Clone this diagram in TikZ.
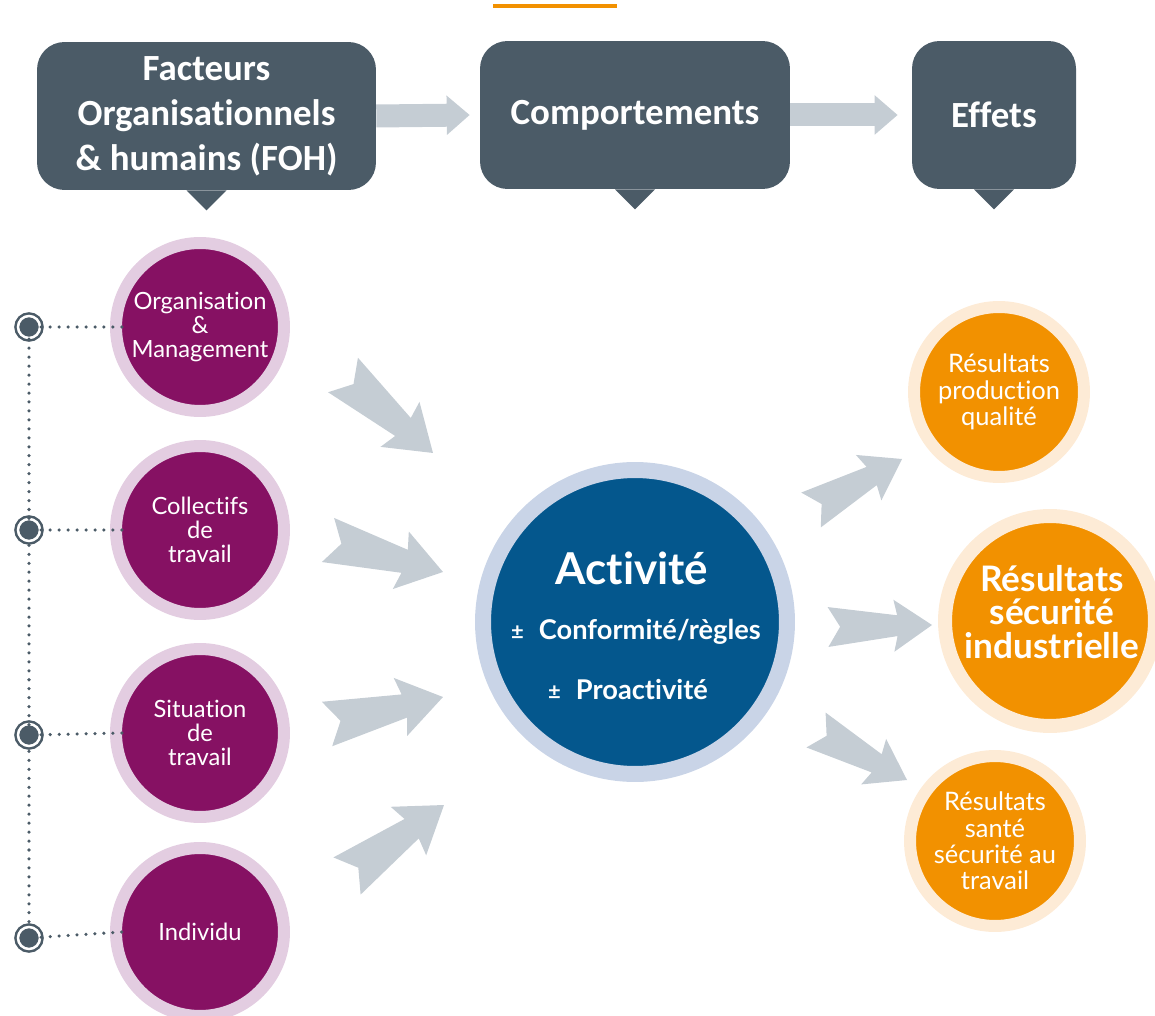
\documentclass[tikz,border=0pt]{standalone}
\usepackage{fontspec}
\setmainfont{Lato}[Ligatures=NoCommon]
\newfontfamily\boxfont{Carlito}[Ligatures=NoCommon]
\usetikzlibrary{arrows.meta,calc}

\definecolor{slate}{HTML}{4B5B67}
\definecolor{arrowgray}{HTML}{C5CDD4}
\definecolor{plum}{HTML}{861163}
\definecolor{plumring}{HTML}{E3CDE1}
\definecolor{navy}{HTML}{04578D}
\definecolor{navyring}{HTML}{C9D4E7}
\definecolor{amber}{HTML}{F29100}
\definecolor{amberring}{HTML}{FDEBD6}

\tikzset{
  chev/.pic={\fill[arrowgray] (0,23) -- (14,0) -- (0,-23) -- (80,-12) -- (76,-30)
    -- (120,0) -- (76,30) -- (80,12) -- cycle;},
  headbox/.style={rectangle, rounded corners=0.55cm, fill=slate, text=white,
    font=\boxfont\bfseries\fontsize{21}{25.6}\selectfont, align=center,
    minimum height=2.96cm, inner sep=0},
  headarrow/.style={draw=arrowgray, line width=0.46cm,
    -{Triangle[length=0.46cm, width=0.76cm]}},
  factor/.style={circle, fill=plum, draw=plumring, line width=0.24cm,
    minimum size=3.36cm, inner sep=0, text=white, align=center,
    font=\fontsize{13.5}{13.8}\selectfont},
  result/.style={circle, fill=amber, draw=amberring, line width=0.24cm,
    minimum size=3.4cm, inner sep=0, text=white, align=center,
    font=\fontsize{14.5}{15}\selectfont},
  dotline/.style={draw=slate, line width=2pt, line cap=round,
    dash pattern=on 0pt off 5.1pt},
  knob/.style={circle, fill=slate, draw=slate, double=white,
    double distance=0.05cm, line width=0.05cm, minimum size=0.44cm, inner sep=0}
}

% gray chevron between two named points
\newcommand\bigchev[2]{%
  \path let \p1=(#1), \p2=(#2), \n1={atan2(\y2-\y1,\x2-\x1)},
    \n2={veclen(\x2-\x1,\y2-\y1)/68.29} in (\p1) pic[rotate=\n1, scale=\n2] {chev};}

\begin{document}
\begin{tikzpicture}[x=0.02cm, y=-0.02cm]
\useasboundingbox (0,0) rectangle (1155,1016);

\fill[amber] (493,4.5) rectangle (617,8.5);

% header boxes
\node[headbox, minimum width=6.78cm] (foh) at (206.5,116)
  {Facteurs\\Organisationnels\\\& humains (FOH)};
\node[headbox, minimum width=6.2cm] (comp) at (635,115) {Comportements};
\node[headbox, minimum width=3.28cm] (eff) at (994,115) {Effets};

\foreach \b in {foh,comp,eff}
  \fill[slate] ($(\b.south)+(-20,0)$) -- ($(\b.south)+(20,0)$)
    -- ($(\b.south)+(0,20)$) -- cycle;

\draw[headarrow] (foh.east) -- ([xshift=-0.2cm]comp.west);
\draw[headarrow] (comp.east) -- ([xshift=-0.28cm]eff.west);

% factors
\node[factor] (org) at (200,327) {Organisation\\\&\\Management};
\node[factor] (coll) at (200,530) {Collectifs\\de\\travail};
\node[factor] (sit) at (200,733) {Situation\\de\\travail};
\node[factor] (ind) at (200,932) {Individu};

\node[knob] (k1) at (29,327) {};
\node[knob] (k2) at (29,530) {};
\node[knob] (k3) at (29,735) {};
\node[knob] (k4) at (29,938) {};

\draw[dotline] (k1) -- (k4);
\draw[dotline] (k1) -- ([xshift=0.24cm]org.west);
\draw[dotline] (k2) -- ([xshift=0.24cm]coll.west);
\draw[dotline] (k3) -- ([xshift=0.24cm]sit.west);
\draw[dotline] (k4) -- ([xshift=0.24cm]ind.west);

% activity
\node[circle, fill=navy, draw=navyring, line width=0.32cm, minimum size=6.08cm,
  inner sep=0] (act) at (635,622) {};
\node[text=white, font=\bfseries\fontsize{25}{25}\selectfont] (acttitle) at (632,568) {Activité};
\node[text=white, font=\bfseries\fontsize{15.5}{15.5}\selectfont] (conf) at (636,632)
  {{\fontsize{12.5}{12}\selectfont ±}\hspace{0.3cm}Conformité/règles};
\node[text=white, font=\bfseries\fontsize{15.5}{15.5}\selectfont] (proa) at (628,690)
  {{\fontsize{12.5}{12}\selectfont ±}\hspace{0.3cm}Proactivité};

% results
\node[result] (prod) at (999,392) {Résultats\\production\\qualité};
\node[result, line width=0.28cm, minimum size=4.2cm] (indus) at (1050,621) {};
\node[text=white, align=center, font=\bfseries\fontsize{20}{19}\selectfont]
  (industxt) at (1052,612) {Résultats\\sécurité\\industrielle};
\node[result] (sst) at (995,841) {Résultats\\santé\\sécurité au\\travail};

% chevrons
\coordinate (a1) at (343,375); \coordinate (a1t) at (433,453);
\coordinate (a2) at (328,540); \coordinate (a2t) at (443,572);
\coordinate (a3) at (327,724); \coordinate (a3t) at (443,697);
\coordinate (a4) at (347,876); \coordinate (a4t) at (444,805);
\coordinate (b1) at (811,510); \coordinate (b1t) at (902,459);
\coordinate (b2) at (828,627); \coordinate (b2t) at (932,625);
\coordinate (b3) at (816,730); \coordinate (b3t) at (907,780);

\bigchev{a1}{a1t}
\bigchev{a2}{a2t}
\bigchev{a3}{a3t}
\bigchev{a4}{a4t}
\bigchev{b1}{b1t}
\bigchev{b2}{b2t}
\bigchev{b3}{b3t}

\end{tikzpicture}
\end{document}
